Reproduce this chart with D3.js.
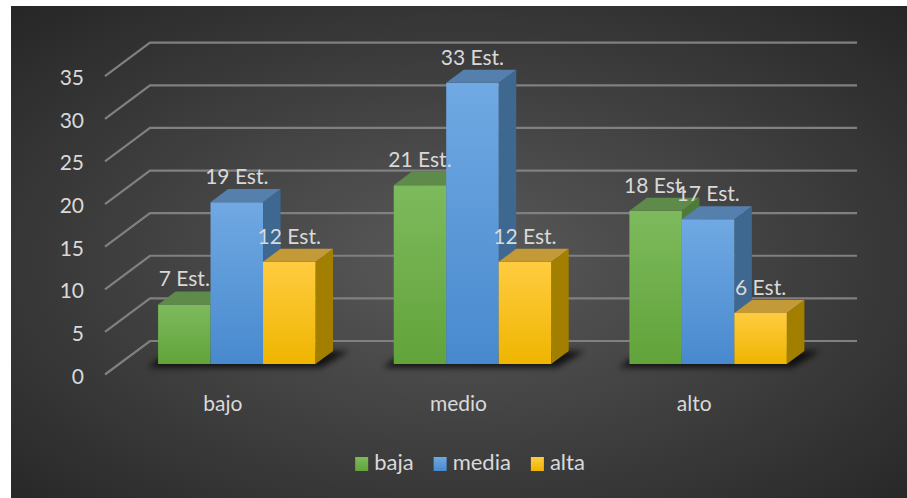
<!DOCTYPE html>
<html>
<head>
<meta charset="utf-8">
<script src="https://cdn.jsdelivr.net/npm/d3@7"></script>
<style>
  body { margin: 0; background: #fff; }
  text { font-family: Lato, sans-serif; fill: #d9d9d9; }
</style>
</head>
<body>
<div id="app"></div>
<script>
const categories = ['bajo', 'medio', 'alto']
const seriesNames = ['baja', 'media', 'alta']
const baja = [7, 21, 18]
const media = [19, 33, 17]
const alta = [12, 12, 6]
const yTicks = [0, 5, 10, 15, 20, 25, 30, 35]
const suffix = ' Est.'

const colors = {
  baja: { light: '#7dba5d', dark: '#62a33a', top: '#5f8b4a', side: '#4f7a37' },
  media: { light: '#70a9e3', dark: '#4889ce', top: '#5580ad', side: '#3e6890' },
  alta: { light: '#ffcc40', dark: '#efb500', top: '#c49a38', side: '#a37f00' }
}

const series = seriesNames.map((name, i) => ({ name, values: [baja, media, alta][i] }))

const width = 907
const height = 498

// depth of the floor: back plane z=0, front plane z=1
const depthX = -45
const depthY = 33.5
const zFront = 0.69
const zBack = 0.30

const y = d3.scaleLinear().domain([0, 35]).range([341, 42.7])
const x0 = d3.scaleBand().domain(categories).range([150, 857])
const groupW = x0.bandwidth() * 0.668
const groupOff = (x0.bandwidth() - groupW) / 2
const x1 = d3.scaleBand().domain(seriesNames).range([0, groupW])

const proj = (x, v, z) => [x + depthX * z, y(v) + depthY * z]

const svg = d3.select('#app')
  .append('svg')
  .attr('width', width)
  .attr('height', height)

const defs = svg.append('defs')

const bg = defs.append('radialGradient')
  .attr('id', 'bg')
  .attr('cx', 0.5).attr('cy', 0.52).attr('r', 0.72)
bg.append('stop').attr('offset', 0).attr('stop-color', '#5a5a5a')
bg.append('stop').attr('offset', 1).attr('stop-color', '#262626')

seriesNames.forEach(s => {
  const g = defs.append('linearGradient')
    .attr('id', 'front-' + s)
    .attr('x1', 0).attr('y1', 0).attr('x2', 0).attr('y2', 1)
  g.append('stop').attr('offset', 0).attr('stop-color', colors[s].light)
  g.append('stop').attr('offset', 1).attr('stop-color', colors[s].dark)
})

defs.append('filter')
  .attr('id', 'blur')
  .attr('x', '-20%').attr('y', '-50%').attr('width', '140%').attr('height', '200%')
  .append('feGaussianBlur')
  .attr('stdDeviation', 3)

svg.append('rect')
  .attr('x', 11).attr('y', 6)
  .attr('width', width - 11).attr('height', height - 6)
  .attr('fill', 'url(#bg)')

// grid: back wall lines and floor diagonals
const grid = svg.append('g')
  .attr('stroke', '#808080')
  .attr('stroke-width', 2.2)
  .attr('fill', 'none')

grid.selectAll('path')
  .data(yTicks)
  .join('path')
  .attr('d', d => {
    const a = proj(150, d, 1)
    const b = proj(150, d, 0)
    const c = proj(857, d, 0)
    return `M${a}L${b}L${c}`
  })

svg.append('g')
  .selectAll('text')
  .data(yTicks)
  .join('text')
  .attr('x', 84)
  .attr('y', d => proj(150, d, 1)[1] + 9)
  .attr('text-anchor', 'end')
  .attr('font-size', 21)
  .text(d => d)

// shadows under each group
svg.append('g')
  .selectAll('path')
  .data(categories)
  .join('path')
  .attr('fill', '#000')
  .attr('opacity', 0.75)
  .attr('filter', 'url(#blur)')
  .attr('d', c => {
    const l = x0(c) + groupOff - 6
    const r = x0(c) + groupOff + groupW + 10
    const p1 = proj(l, 0, zFront + 0.1)
    const p2 = proj(r, 0, zFront + 0.1)
    const p3 = proj(r + 6, 0, zBack)
    const p4 = proj(l, 0, zBack)
    return `M${p1}L${p2}L${p3}L${p4}Z`
  })

// bars
const bars = []
categories.forEach((c, ci) => {
  series.forEach(s => {
    bars.push({ cat: c, name: s.name, value: s.values[ci] })
  })
})

const bar = svg.append('g')
  .selectAll('g')
  .data(bars)
  .join('g')

const face = (pts) => 'M' + pts.map(p => p.join(',')).join('L') + 'Z'

bar.append('path')
  .attr('fill', d => colors[d.name].side)
  .attr('d', d => {
    const xr = x0(d.cat) + groupOff + x1(d.name) + x1.bandwidth()
    return face([proj(xr, 0, zFront), proj(xr, d.value, zFront), proj(xr, d.value, zBack), proj(xr, 0, zBack)])
  })

bar.append('path')
  .attr('fill', d => `url(#front-${d.name})`)
  .attr('d', d => {
    const xl = x0(d.cat) + groupOff + x1(d.name)
    const xr = xl + x1.bandwidth()
    return face([proj(xl, 0, zFront), proj(xl, d.value, zFront), proj(xr, d.value, zFront), proj(xr, 0, zFront)])
  })

bar.append('path')
  .attr('fill', d => colors[d.name].top)
  .attr('d', d => {
    const xl = x0(d.cat) + groupOff + x1(d.name)
    const xr = xl + x1.bandwidth()
    return face([proj(xl, d.value, zFront), proj(xr, d.value, zFront), proj(xr, d.value, zBack), proj(xl, d.value, zBack)])
  })

// data labels
svg.append('g')
  .selectAll('text')
  .data(bars)
  .join('text')
  .attr('x', d => proj(x0(d.cat) + groupOff + x1(d.name) + x1.bandwidth() / 2, d.value, zFront)[0])
  .attr('y', d => proj(0, d.value, zBack)[1] - 5)
  .attr('text-anchor', 'middle')
  .attr('font-size', 21)
  .text(d => d.value + suffix)

// category labels
svg.append('g')
  .selectAll('text')
  .data(categories)
  .join('text')
  .attr('x', d => proj(x0(d) + x0.bandwidth() / 2, 0, 1)[0])
  .attr('y', 411)
  .attr('text-anchor', 'middle')
  .attr('font-size', 21)
  .text(d => d)

// legend
const legend = svg.append('g')
const items = legend.selectAll('g')
  .data(seriesNames)
  .join('g')

items.append('rect')
  .attr('width', 13)
  .attr('height', 14)
  .attr('y', 457)
  .attr('fill', d => `url(#front-${d})`)

items.append('text')
  .attr('x', 19)
  .attr('y', 470)
  .attr('font-size', 22)
  .text(d => d)

let cursor = 0
const offsets = []
items.each(function () {
  offsets.push(cursor)
  cursor += 19 + d3.select(this).select('text').node().getComputedTextLength() + 20
})
const total = cursor - 20
items.attr('transform', (d, i) => `translate(${470 - total / 2 + offsets[i]},0)`)
</script>
</body>
</html>
